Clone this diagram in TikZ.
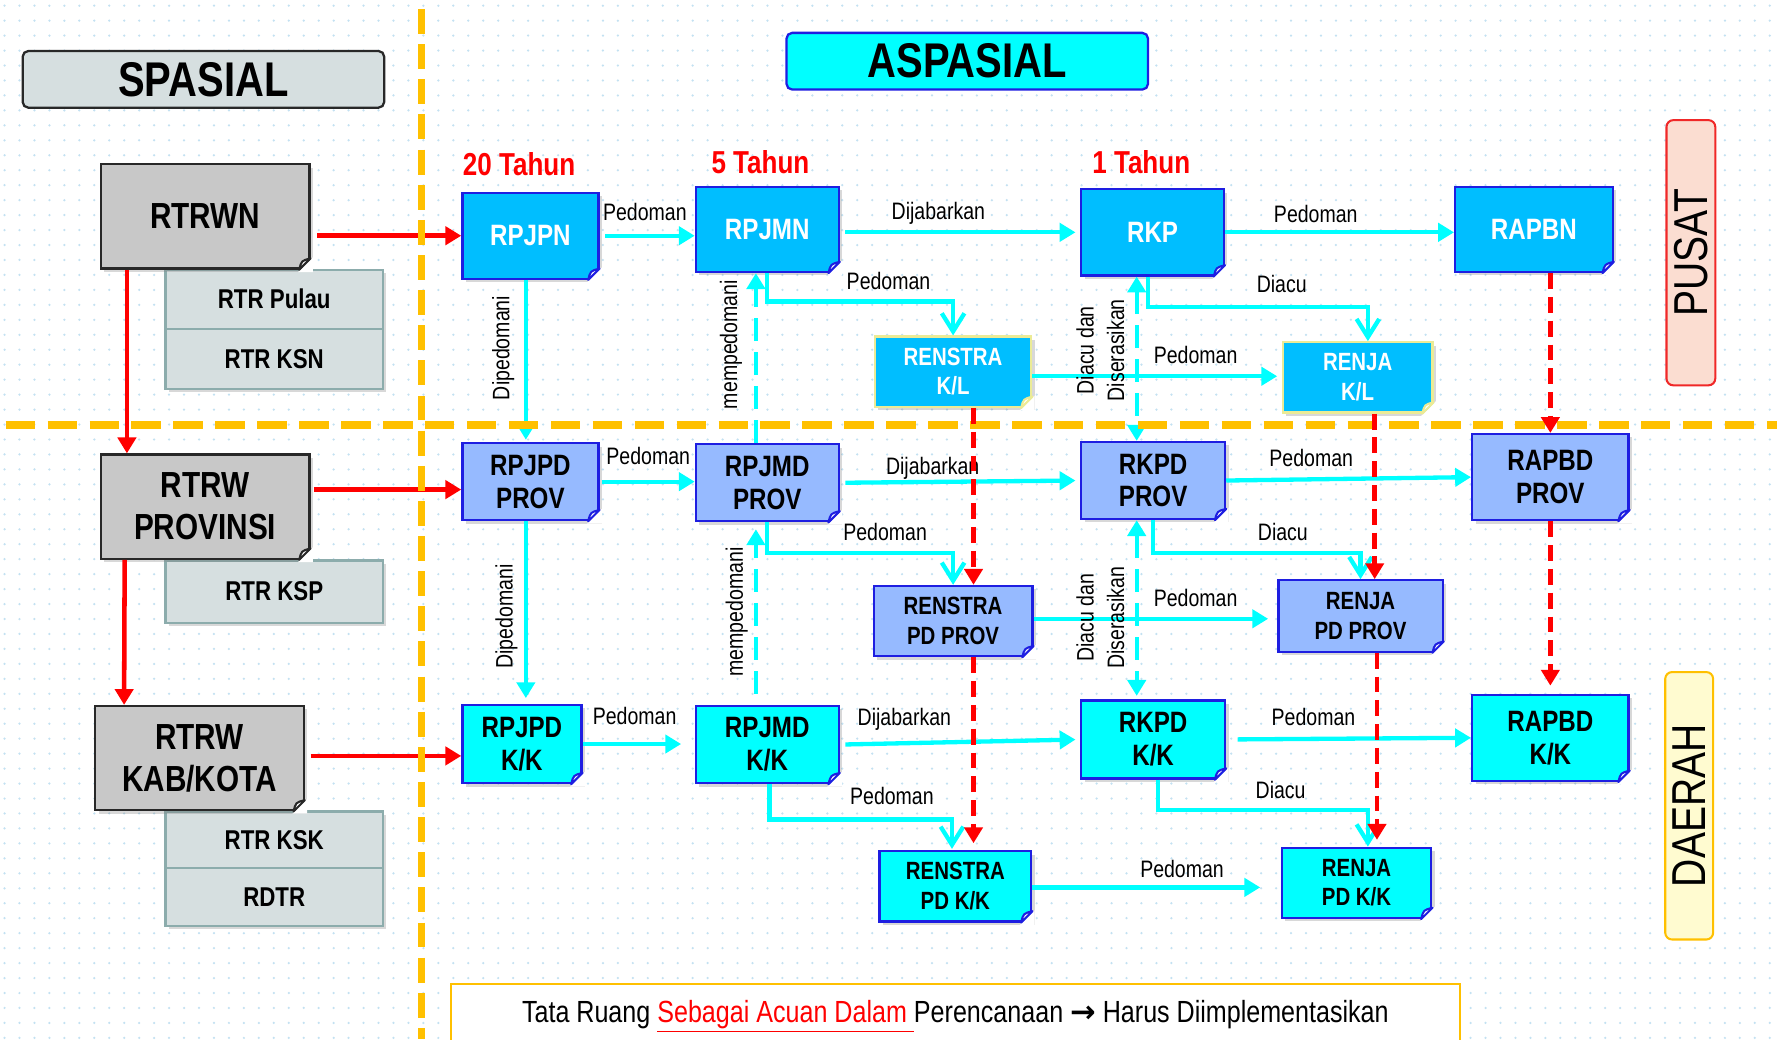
\documentclass[tikz,border=0pt]{standalone}
\usepackage{fontspec}
\setmainfont{Liberation Sans}[FakeStretch=0.82]
\newfontfamily\arrowfont{DejaVu Sans}
\usepackage{tikz}
\usetikzlibrary{arrows.meta,calc,shadows}

\definecolor{natblue}{RGB}{0,190,255}
\definecolor{provblue}{RGB}{150,186,255}
\definecolor{kkcyan}{RGB}{0,255,255}
\definecolor{boxline}{RGB}{30,30,225}
\definecolor{klline}{RGB}{235,235,150}
\definecolor{rtrwgray}{RGB}{200,200,200}
\definecolor{rtrwline}{RGB}{40,40,40}
\definecolor{rtrfill}{RGB}{214,223,224}
\definecolor{rtrline}{RGB}{140,172,172}
\definecolor{orangec}{RGB}{255,192,0}
\definecolor{redc}{RGB}{255,0,0}
\definecolor{cyanc}{RGB}{0,255,255}
\definecolor{dotc}{RGB}{195,225,242}
\definecolor{pusatfill}{RGB}{251,221,209}
\definecolor{pusatline}{RGB}{240,40,40}
\definecolor{daerahfill}{RGB}{255,251,208}

\tikzset{
  wh/.style 2 args={minimum width=#1*0.5pt, minimum height=#2*0.5pt},
  shade/.style={drop shadow={opacity=0.3, shadow xshift=1.5pt, shadow yshift=-1.5pt}},
  doc/.style={draw=boxline, line width=1pt, align=center, inner sep=1pt, shade,
    font=\bfseries\fontsize{13}{14.5}\selectfont},
  natbox/.style={doc, fill=natblue, text=white},
  provbox/.style={doc, fill=provblue},
  kkbox/.style={doc, fill=kkcyan},
  small/.style={font=\bfseries\fontsize{11}{13}\selectfont},
  klbox/.style={natbox, small, draw=klline},
  rtrw/.style={draw=rtrwline, fill=rtrwgray, line width=1pt, align=center, shade,
    font=\bfseries\fontsize{16}{18.5}\selectfont},
  rtr/.style={draw=rtrline, fill=rtrfill, line width=1pt, shade,
    font=\bfseries\fontsize{12}{14}\selectfont},
  title/.style={rounded corners=2.5pt, line width=1pt, font=\bfseries\fontsize{21.5}{24}\selectfont},
  side/.style={rounded corners=3pt, line width=0.9pt, font=\fontsize{21}{24}\selectfont},
  tahun/.style={text=redc, font=\bfseries\fontsize{14}{16}\selectfont},
  lbl/.style={inner sep=1pt, align=center, font=\fontsize{10.5}{13.5}\selectfont},
  redarr/.style={draw=redc, line width=2pt, -{Triangle[length=7pt,width=8pt]}},
  reddash/.style={redarr, dash pattern=on 7pt off 3.5pt},
  cyanarr/.style={draw=cyanc, line width=1.9pt, -{Triangle[length=7pt,width=8pt]}},
  cyandash/.style={cyanarr, dash pattern=on 10pt off 5pt},
  cyanboth/.style={cyandash, {Triangle[length=7pt,width=8pt]}-{Triangle[length=7pt,width=8pt]}},
  elbow/.style={draw=cyanc, line width=1.9pt, -{Straight Barb[length=8pt,width=10pt]}},
  divider/.style={draw=orangec, line width=3.3pt}
}

\begin{document}
\begin{tikzpicture}[x=0.5pt,y=0.5pt,yscale=-1,xscale=1]
\useasboundingbox (0,0) rectangle (1568,917);
\fill[white] (0,0) rectangle (1568,917);
%dotted background
\foreach \yy in {5,18.2,...,917}
  \draw[dotc, line width=1.1pt, line cap=round, dash pattern=on 0pt off 6.6pt] (4,\yy) -- (1568,\yy);

%Shape: headers
\node[title, draw=rtrwline, fill=rtrfill, wh={319}{50}] (spasial) at (179.5,70) {SPASIAL};
\node[title, draw=boxline, fill=kkcyan, wh={319}{50}] (aspasial) at (853.5,54) {ASPASIAL};
\node[side, draw=pusatline, fill=pusatfill, rotate=90, wh={234}{43}] (pusat) at (1492,223) {PUSAT};
\node[side, draw=orangec, fill=daerahfill, rotate=90, wh={236}{42}] (daerah) at (1490.5,711) {DAERAH};

% Text Node
\node[tahun] (t20) at (458,145) {20 Tahun};
\node[tahun] (t5) at (671,143) {5 Tahun};
\node[tahun] (t1) at (1007,143) {1 Tahun};

%Shape: spatial plans
\node[rtr, wh={192}{52}] (pulau) at (242,264) {RTR Pulau};
\node[rtr, wh={192}{53}] (ksn) at (242,316.5) {RTR KSN};
\node[rtr, wh={192}{55}] (ksp) at (242,522) {RTR KSP};
\node[rtr, wh={192}{50}] (ksk) at (242,741) {RTR KSK};
\node[rtr, wh={192}{51}] (rdtr) at (242,791.5) {RDTR};
\node[rtrw, wh={184}{92}] (RTRWN) at (181,191) {RTRWN};
\node[rtrw, wh={184}{92}] (RTRWP) at (181,447) {RTRW\\PROVINSI};
\node[rtrw, wh={184}{92}] (RTRWK) at (176,669) {RTRW\\KAB/KOTA};

%Shape: national row
\node[natbox, wh={120}{76}] (RPJPN) at (468,208) {RPJPN};
\node[natbox, wh={126}{75}] (RPJMN) at (677,202.5) {RPJMN};
\node[natbox, wh={126}{76}] (RKP) at (1017,205) {RKP};
\node[natbox, wh={139}{75}] (RAPBN) at (1353.5,202.5) {RAPBN};
\node[klbox, wh={138}{62}] (RSKL) at (841,328) {RENSTRA\\K/L};
\node[klbox, wh={132}{62}] (RJKL) at (1198,333) {RENJA\\K/L};

%Shape: province row
\node[provbox, wh={120}{68}] (RPJPDP) at (468,425) {RPJPD\\PROV};
\node[provbox, wh={126}{68}] (RPJMDP) at (677,426) {RPJMD\\PROV};
\node[provbox, wh={127}{68}] (RKPDP) at (1017.5,424) {RKPD\\PROV};
\node[provbox, wh={138}{76}] (RAPBDP) at (1368,421) {RAPBD\\PROV};
\node[provbox, small, wh={140}{62}] (RSP) at (841,548) {RENSTRA\\PD PROV};
\node[provbox, small, wh={145}{63}] (RJP) at (1200.5,543.5) {RENJA\\PD PROV};

%Shape: kab/kota row
\node[kkbox, wh={105}{69}] (RPJPDK) at (460.5,656.5) {RPJPD\\K/K};
\node[kkbox, wh={126}{68}] (RPJMDK) at (677,657) {RPJMD\\K/K};
\node[kkbox, wh={127}{69}] (RKPDK) at (1017.5,652.5) {RKPD\\K/K};
\node[kkbox, wh={138}{76}] (RAPBDK) at (1368,651) {RAPBD\\K/K};
\node[kkbox, small, wh={134}{62}] (RSK) at (843,782) {RENSTRA\\PD K/K};
\node[kkbox, small, wh={132}{62}] (RJK) at (1197,779) {RENJA\\PD K/K};

%folded corners
\foreach \n/\c in {RTRWN/rtrwline, RTRWP/rtrwline, RTRWK/rtrwline, RPJPN/boxline, RPJMN/boxline,
    RKP/boxline, RAPBN/boxline, RSKL/klline, RJKL/klline, RPJPDP/boxline, RPJMDP/boxline,
    RKPDP/boxline, RAPBDP/boxline, RSP/boxline, RJP/boxline, RPJPDK/boxline, RPJMDK/boxline,
    RKPDK/boxline, RAPBDK/boxline, RSK/boxline, RJK/boxline}{
  \fill[white] ($(\n.south east)+(-11,2)$) -- ($(\n.south east)+(2,2)$) -- ($(\n.south east)+(2,-11)$) -- cycle;
  \filldraw[draw=\c, fill=white, line width=0.9pt, line join=round] ($(\n.south east)+(-10,0)$) -- ($(\n.south east)+(0,-10)$)
    .. controls ($(\n.south east)+(-8,-8)$) .. ($(\n.south east)+(-10,0)$) -- cycle;
}

%Straight Lines: cyan links
\draw[cyanarr, shorten <=2.5pt] (RPJPN.east) -- (RPJPN.east -| RPJMN.west);
\draw[cyanarr, shorten <=2.5pt, shorten >=2pt] (RPJMN.east |- RKP.west) -- (RKP.west);
\draw[cyanarr] (RKP.east) -- (RKP.east -| RAPBN.west);
\draw[cyanarr, shorten <=1pt] (RPJPDP.east) -- (RPJPDP.east -| RPJMDP.west);
\draw[cyanarr, shorten <=2.5pt, shorten >=2pt] (RPJMDP.east) -- (RKPDP.west);
\draw[cyanarr] (RKPDP.east) -- (RAPBDP.west);
\draw[cyanarr, shorten >=6pt] (RPJPDK.east) -- (RPJPDK.east -| RPJMDK.west);
\draw[cyanarr, shorten <=2.5pt, shorten >=2pt] (RPJMDK.east) -- (RKPDK.west);
\draw[cyanarr, shorten <=5pt] (RKPDK.east) -- (RAPBDK.west);
\draw[cyanarr] ($(RSKL.east)+(0,4)$) -- ($(RJKL.west)+(-4,-1)$);
\draw[cyanarr] ($(RSP.east)+(0,-2)$) -- ($(RJP.west)+(-8,2.5)$);
\draw[cyanarr] ($(RSK.east)+(0,1)$) -- ($(RJK.west)+(-18,4)$);
\draw[cyanarr] ($(RPJPN.south)+(-4,0)$) -- ($(RPJPDP.north)+(-4,-2)$);
\draw[cyanarr] ($(RPJPDP.south)+(-4,0)$) -- ($(RPJPDK.north)+(3.5,-5)$);
\draw[cyandash] ($(RPJMDP.north)+(-10,0)$) -- ($(RPJMN.south)+(-10,0)$);
\draw[cyandash] ($(RPJMDK.north)+(-10,-10)$) -- ($(RPJMDP.south)+(-10,6)$);
\draw[cyanboth] ($(RKP.south)+(-14,0)$) -- ($(RKPDP.north)+(-14.5,0)$);
\draw[cyanboth] ($(RKPDP.south)+(-14.5,0)$) -- ($(RKPDK.north)+(-14.5,-3)$);
\draw[elbow] (RPJMN.south) -- ++(0,25) -| (RSKL.north);
\draw[elbow] (RPJMDP.south) -- ++(0,27) -| (RSP.north);
\draw[elbow] ($(RPJMDK.south)+(2,0)$) -- ++(0,31) -| ($(RSK.north)+(-3,-1)$);
\draw[elbow] ($(RKP.south)+(-4,0)$) -- ++(0,27) -| ($(RJKL.north)+(9,0)$);
\draw[elbow] (RKPDP.south) -- ++(0,29) -| (RJP.north);
\draw[elbow] ($(RKPDK.south)+(4.5,0)$) -- ++(0,27) -| ($(RJK.north)+(10,0)$);

% Text Node: link labels
\node[lbl] (lPed1) at (569,187) {Pedoman};
\node[lbl] (lDij1) at (828,188) {Dijabarkan};
\node[lbl] (lPed2) at (1161,189) {Pedoman};
\node[lbl] (lPed3) at (572,402) {Pedoman};
\node[lbl] (lDij2) at (823,413) {Dijabarkan};
\node[lbl] (lPed4) at (1157,404) {Pedoman};
\node[lbl] (lPed5) at (560,632) {Pedoman};
\node[lbl] (lDij3) at (798,635) {Dijabarkan};
\node[lbl] (lPed6) at (1159,633) {Pedoman};
\node[lbl] (lPed7) at (1055,313) {Pedoman};
\node[lbl] (lPed8) at (1055,528) {Pedoman};
\node[lbl] (lPed9) at (1043,767) {Pedoman};
\node[lbl] (lPed10) at (784,248) {Pedoman};
\node[lbl] (lPed11) at (781,469) {Pedoman};
\node[lbl] (lPed12) at (787,702) {Pedoman};
\node[lbl] (lDia1) at (1131,251) {Diacu};
\node[lbl] (lDia2) at (1132,469) {Diacu};
\node[lbl] (lDia3) at (1130,697) {Diacu};
\node[lbl, rotate=90] (lDip1) at (444,307) {Dipedomani};
\node[lbl, rotate=90] (lDip2) at (447,544) {Dipedomani};
\node[lbl, rotate=90] (lMem1) at (645,304) {mempedomani};
\node[lbl, rotate=90] (lMem2) at (650,540) {mempedomani};
\node[lbl, rotate=90] (lDds1) at (971,309) {Diacu dan\\Diserasikan};
\node[lbl, rotate=90] (lDds2) at (971,545) {Diacu dan\\Diserasikan};

%Straight Lines: red links
\draw[redarr, shorten <=3pt] (RTRWN.east |- RPJPN.west) -- (RPJPN.west);
\draw[redarr] ($(RTRWN.south west)+(24,0)$) -- ($(RTRWP.north west)+(24,0)$);
\draw[redarr] ($(RTRWP.east)+(3,-15)$) -- ($(RPJPDP.west)+(0,7)$);
\draw[redarr] ($(RTRWP.south west)+(22,0)$) -- ($(RTRWK.north west)+(26.5,0)$);
\draw[redarr] ($(RTRWK.east)+(5,-2)$) -- ($(RPJPDK.west)+(0,10.5)$);

%dividers
\draw[divider, dash pattern=on 11pt off 4.5pt] (372,8) -- (372,917);
\draw[divider, dash pattern=on 13pt off 5.5pt] (5,375) -- (1568,375);

%Straight Lines: red dashed
\draw[reddash] (RAPBDP.north |- RAPBN.south) -- (RAPBDP.north);
\draw[reddash] (RAPBDP.south) -- ($(RAPBDK.north)+(0,-7)$);
\draw[reddash] ($(RSKL.south)+(18,0)$) -- ($(RSP.north)+(18,0)$);
\draw[reddash] ($(RSP.south)+(18,0)$) -- ($(RSK.north)+(16,-6)$);
\draw[reddash] ($(RJKL.south)+(15,0)$) -- ($(RJP.north)+(12.5,0)$);
\draw[reddash] ($(RJP.south)+(14.5,0)$) -- ($(RJK.north)+(18,-6)$);

%note
\draw[draw=orangec, line width=0.8pt, fill=white] (398,868) rectangle (1288,940);
\node[font=\fontsize{13.5}{16}\selectfont] (note) at (843,897)
  {Tata Ruang \textcolor{redc}{\underline{Sebagai Acuan Dalam\ }}Perencanaan {\arrowfont\bfseries →} Harus Diimplementasikan};
\end{tikzpicture}
\end{document}
